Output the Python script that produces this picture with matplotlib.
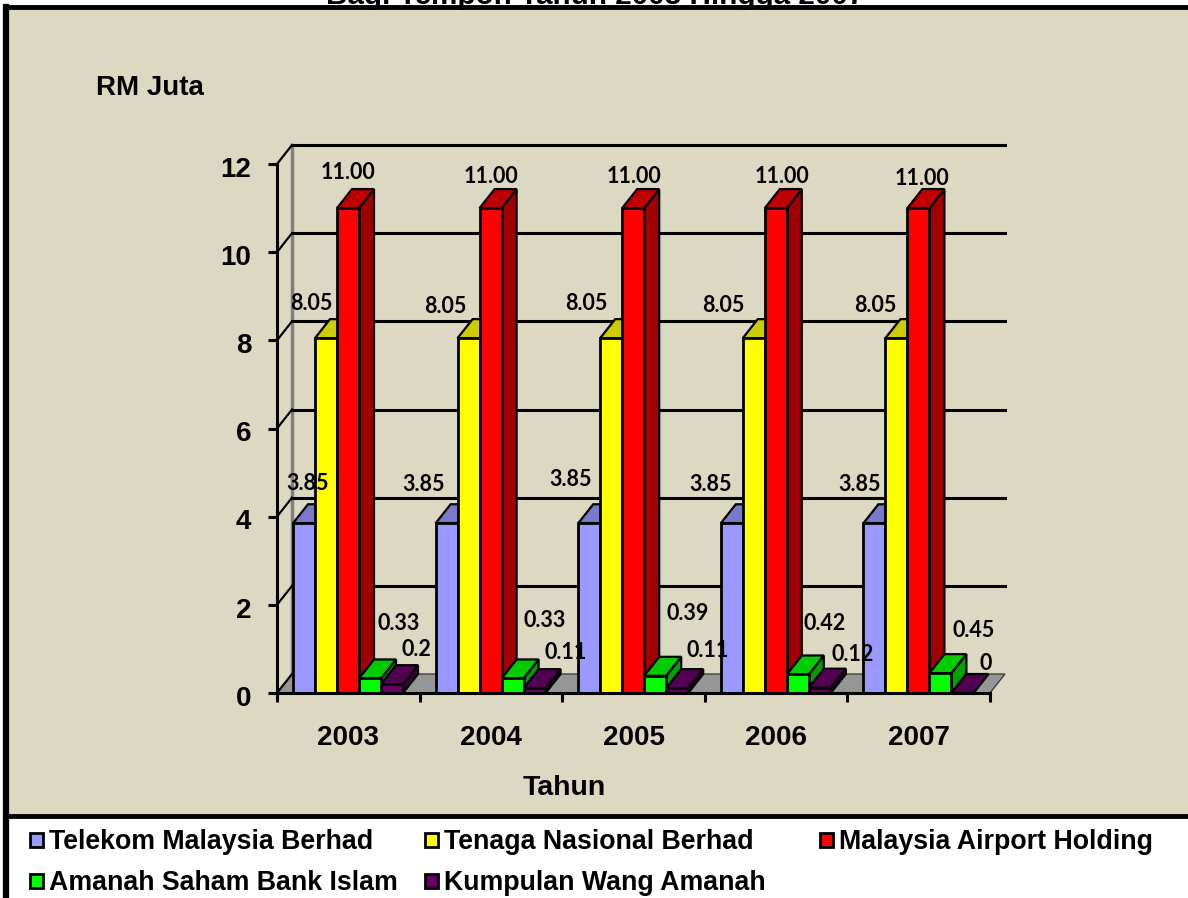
import matplotlib
matplotlib.use("Agg")
import matplotlib.pyplot as plt
from matplotlib.patches import Polygon, Rectangle
from matplotlib.transforms import ScaledTranslation

plt.rcParams['font.family'] = ['Liberation Sans', 'DejaVu Sans']

years = ['2003', '2004', '2005', '2006', '2007']
telekom = [3.85, 3.85, 3.85, 3.85, 3.85]
tenaga = [8.05, 8.05, 8.05, 8.05, 8.05]
airport = [11.00, 11.00, 11.00, 11.00, 11.00]
amanah = [0.33, 0.33, 0.39, 0.42, 0.45]
kumpulan = [0.2, 0.11, 0.11, 0.12, 0]

names = ['Telekom Malaysia Berhad', 'Tenaga Nasional Berhad', 'Malaysia Airport Holding',
         'Amanah Saham Bank Islam', 'Kumpulan Wang Amanah']
series = [telekom, tenaga, airport, amanah, kumpulan]
# text as printed on the chart
label_text = [['3.85'] * 5, ['8.05'] * 5, ['11.00'] * 5,
              ['0.33', '0.33', '0.39', '0.42', '0.45'],
              ['0.2', '0.11', '0.11', '0.12', '0']]

front = ['#9999FF', '#FFFF00', '#FF0000', '#00FF00', '#660066']
top = ['#7A7ACC', '#CCCC00', '#C00000', '#00CC00', '#520052']
side = ['#5C5C99', '#999900', '#A00000', '#00A000', '#3D003D']

# hand placed label offsets (pixels from the bar top)
off_x = [[4, -23, -19, -21, -15], [-15, -23, -25, -30, -21], [0, 0, 1, 6, 4],
         [29, 32, 32, 27, 33], [24, 31, 30, 33, 23]]
off_y = [[40, 39, 44, 39, 39], [35, 32, 35, 33, 33], [36, 32, 32, 32, 30],
         [55, 58, 62, 51, 43], [35, 36, 38, 33, 30]]

W, H = 1188, 898
fig = plt.figure(figsize=(W / 100, H / 100), dpi=100, facecolor='white')

# page furniture in pixel coordinates
bg = fig.add_axes([0, 0, 1, 1])
bg.set_xlim(0, W)
bg.set_ylim(H, 0)
bg.axis('off')
bg.add_patch(Rectangle((6, 7), W, 809, fc='#DDD8C2', ec='black', lw=3.5))
bg.plot([6, 6], [7, H], color='black', lw=4.5)
bg.text(595, 4, 'Bagi Tempoh Tahun 2003 Hingga 2007', ha='center', va='baseline',
        fontsize=21.3, fontweight='bold')
bg.text(96, 88, 'RM Juta', ha='left', va='center', fontsize=20, fontweight='bold')
bg.text(564, 788, 'Tahun', ha='center', va='center', fontsize=20.5, fontweight='bold')

# legend
legend_x = [30, 425, 820, 30, 425]
legend_y = [840, 840, 840, 881, 881]
for i, name in enumerate(names):
    bg.add_patch(Rectangle((legend_x[i], legend_y[i] - 7), 13, 14, fc=front[i], ec='black', lw=2))
    bg.text(legend_x[i] + 19, legend_y[i] + 2, name, ha='left', va='center',
            fontsize=19.3, fontweight='bold')

# front plane of the plot
left, right, base, upper = 277, 990, 693, 164
ax = fig.add_axes([left / W, 1 - base / H, (right - left) / W, (base - upper) / H])
ax.patch.set_alpha(0)
ax.set_xlim(0, 5)
ax.set_ylim(0, 12)
ux = (right - left) / 5
uy = (base - upper) / 12
dx = 15 / ux
dy = 19 / uy
bar_w = 22 / ux
start = 16 / ux

# back wall, floor and gridlines
for t in range(2, 13, 2):
    ax.plot([dx, 5 + dx], [t + dy, t + dy], color='black', lw=2.2, zorder=2, clip_on=False)
for t in range(0, 13, 2):
    ax.plot([0, dx], [t, t + dy], color='black', lw=1.6, zorder=2, clip_on=False)
ax.add_patch(Polygon([(0, 0), (5, 0), (5 + dx, dy), (dx, dy)], fc='#969696', ec='#404040', lw=1,
                     zorder=1, clip_on=False))
ax.plot([dx, dx], [dy, 12 + dy], color='#808080', lw=2.5, zorder=1.5, clip_on=False)

# bars, back to front is just left to right here
for g in range(len(years)):
    for s in range(len(series)):
        v = series[s][g]
        x0 = g + start + s * bar_w
        x1 = x0 + bar_w
        z = 3 + g + s * 0.1
        ax.add_patch(Polygon([(x1, 0), (x1 + dx, dy), (x1 + dx, v + dy), (x1, v)],
                             fc=side[s], ec='black', lw=1.6, zorder=z, clip_on=False))
        ax.add_patch(Polygon([(x0, v), (x1, v), (x1 + dx, v + dy), (x0 + dx, v + dy)],
                             fc=top[s], ec='black', lw=1.6, zorder=z, clip_on=False))
        ax.bar(x0, v, bar_w, align='edge', color=front[s], edgecolor='black', lw=2, zorder=z)

for g in range(len(years)):
    for s in range(len(series)):
        xc = g + start + (s + 0.5) * bar_w
        ax.annotate(label_text[s][g], (xc, series[s][g]),
                    xytext=(off_x[s][g] * 0.72, off_y[s][g] * 0.72), textcoords='offset points',
                    ha='center', va='center', fontsize=15.5, fontweight='bold',
                    family=['Lato', 'DejaVu Sans'], zorder=20, annotation_clip=False)

for sp in ['top', 'right']:
    ax.spines[sp].set_visible(False)
for sp in ['left', 'bottom']:
    ax.spines[sp].set_linewidth(2.2)
    ax.spines[sp].set_zorder(15)
ax.set_yticks(range(0, 13, 2))
ax.set_xticks(range(0, 6))
ax.set_xticklabels([])
ax.set_xticks([i + 0.5 for i in range(5)], labels=years, minor=True)
ax.tick_params(axis='y', length=6.5, width=2.2, pad=12, labelsize=20)
ax.tick_params(axis='x', which='major', length=6.5, width=2.2)
ax.tick_params(axis='x', which='minor', length=0, pad=23, labelsize=20)
for lab in ax.get_yticklabels():
    lab.set_fontweight('bold')
    lab.set_transform(lab.get_transform() + ScaledTranslation(0, -2 / 72, fig.dpi_scale_trans))
for lab in ax.get_xticklabels(minor=True):
    lab.set_fontweight('bold')

fig.savefig('out.png', dpi=100)
